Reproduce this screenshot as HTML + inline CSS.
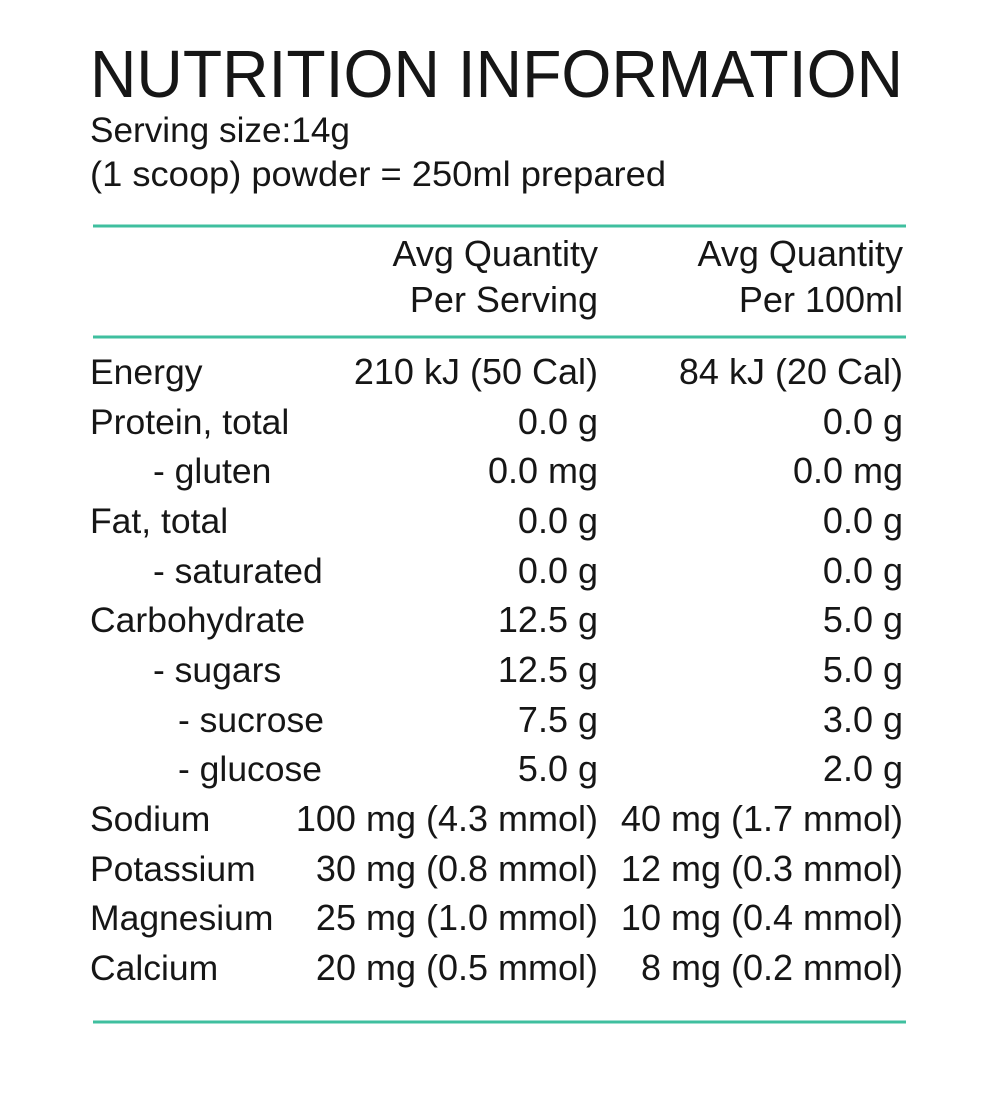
<!DOCTYPE html>
<html>
<head>
<meta charset="utf-8">
<style>
  html, body { margin: 0; padding: 0; background: #ffffff; }
  svg { display: block; }
  text { font-family: "Liberation Sans", Arial, sans-serif; fill: #161616; }
</style>
</head>
<body>
<svg width="1000" height="1114" viewBox="0 0 1000 1114" xmlns="http://www.w3.org/2000/svg">
  <rect x="0" y="0" width="1000" height="1114" fill="#ffffff"/>

  <!-- Title -->
  <text x="90" y="97" font-size="67" textLength="813" lengthAdjust="spacingAndGlyphs">NUTRITION INFORMATION</text>
  <text x="90" y="142" font-size="35.5" textLength="260" lengthAdjust="spacingAndGlyphs">Serving size:14g</text>
  <text x="90" y="186" font-size="35.5" textLength="576" lengthAdjust="spacingAndGlyphs">(1 scoop) powder = 250ml prepared</text>

  <!-- Lines -->
  <rect x="93" y="224.5" width="813" height="3" fill="#3fbf9f"/>
  <rect x="93" y="335.5" width="813" height="3" fill="#3fbf9f"/>
  <rect x="93" y="1020.5" width="813" height="3" fill="#3fbf9f"/>

  <!-- Headers -->
  <g font-size="36" text-anchor="end">
    <text x="598" y="266">Avg Quantity</text>
    <text x="598" y="312">Per Serving</text>
    <text x="903" y="266">Avg Quantity</text>
    <text x="903" y="312">Per 100ml</text>
  </g>

  <!-- Labels -->
  <g font-size="35.5">
    <text x="90" y="384">Energy</text>
    <text x="90" y="434">Protein, total</text>
    <text x="153" y="483">- gluten</text>
    <text x="90" y="533">Fat, total</text>
    <text x="153" y="583">- saturated</text>
    <text x="90" y="632">Carbohydrate</text>
    <text x="153" y="682">- sugars</text>
    <text x="178" y="732">- sucrose</text>
    <text x="178" y="781">- glucose</text>
    <text x="90" y="831">Sodium</text>
    <text x="90" y="881">Potassium</text>
    <text x="90" y="930">Magnesium</text>
    <text x="90" y="980">Calcium</text>
  </g>

  <!-- Per serving -->
  <g font-size="36" text-anchor="end">
    <text x="598" y="384">210 kJ (50 Cal)</text>
    <text x="598" y="434">0.0 g</text>
    <text x="598" y="483">0.0 mg</text>
    <text x="598" y="533">0.0 g</text>
    <text x="598" y="583">0.0 g</text>
    <text x="598" y="632">12.5 g</text>
    <text x="598" y="682">12.5 g</text>
    <text x="598" y="732">7.5 g</text>
    <text x="598" y="781">5.0 g</text>
    <text x="598" y="831">100 mg (4.3 mmol)</text>
    <text x="598" y="881">30 mg (0.8 mmol)</text>
    <text x="598" y="930">25 mg (1.0 mmol)</text>
    <text x="598" y="980">20 mg (0.5 mmol)</text>
  </g>

  <!-- Per 100ml -->
  <g font-size="36" text-anchor="end">
    <text x="903" y="384">84 kJ (20 Cal)</text>
    <text x="903" y="434">0.0 g</text>
    <text x="903" y="483">0.0 mg</text>
    <text x="903" y="533">0.0 g</text>
    <text x="903" y="583">0.0 g</text>
    <text x="903" y="632">5.0 g</text>
    <text x="903" y="682">5.0 g</text>
    <text x="903" y="732">3.0 g</text>
    <text x="903" y="781">2.0 g</text>
    <text x="903" y="831">40 mg (1.7 mmol)</text>
    <text x="903" y="881">12 mg (0.3 mmol)</text>
    <text x="903" y="930">10 mg (0.4 mmol)</text>
    <text x="903" y="980">8 mg (0.2 mmol)</text>
  </g>
</svg>
</body>
</html>
